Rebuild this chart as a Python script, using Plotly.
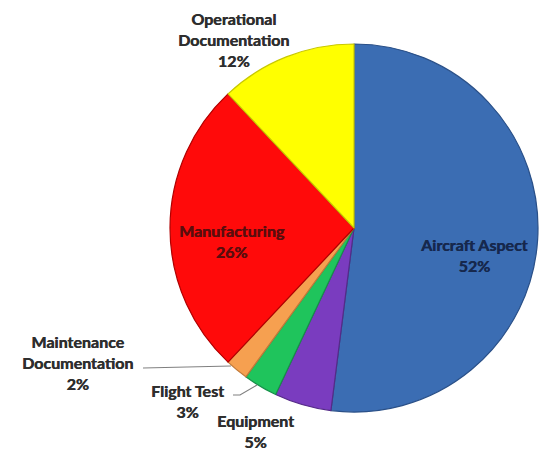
import plotly.graph_objects as go

# Share of findings by area
labels = ["Aircraft Aspect", "Equipment", "Flight Test", "Maintenance Documentation",
          "Manufacturing", "Operational Documentation"]
values = [52, 5, 3, 2, 26, 12]
colors = ["#3b6db3", "#7a3cbf", "#1fc45c", "#f6a050", "#ff0a0a", "#ffff00"]
edges = ["#2a5088", "#552a88", "#17904a", "#c07a3a", "#b00000", "#c8c800"]

# label text layout: (x, y) center in pixels, line breaks, font colour
label_pos = {
    "Aircraft Aspect": (474, 255, "Aircraft Aspect", "#16284d"),
    "Equipment": (255, 431, "Equipment", "#2e2e2e"),
    "Flight Test": (187, 401, "Flight Test", "#2e2e2e"),
    "Maintenance Documentation": (77, 362, "Maintenance<br>Documentation", "#2e2e2e"),
    "Manufacturing": (232, 241, "Manufacturing", "#5a0d0d"),
    "Operational Documentation": (233, 39, "Operational<br>Documentation", "#2e2e2e"),
}

W, H = 539, 453
cx, cy, r = 354, 228, 184

fig = go.Figure(go.Pie(
    labels=labels,
    values=values,
    sort=False,
    direction="clockwise",
    rotation=0,
    textinfo="none",
    hoverinfo="label+percent",
    marker=dict(colors=colors, line=dict(color=edges, width=1.2)),
    domain=dict(x=[(cx - r) / W, (cx + r) / W], y=[1 - (cy + r) / H, 1 - (cy - r) / H]),
    showlegend=False,
))

total = sum(values)
annotations = []
for lab, val in zip(labels, values):
    x, y, txt, col = label_pos[lab]
    pct = round(100 * val / total)
    annotations.append(dict(
        x=x / W, y=1 - y / H, xref="paper", yref="paper",
        text=f"<b>{txt}<br>{pct}%</b>", showarrow=False,
        font=dict(family="Lato", size=16, color=col, weight="bold",
                  shadow=f"0.5px 0 0 {col}"),
        align="center", xanchor="center", yanchor="middle",
    ))

# leader lines for the two thin slices
shapes = [
    dict(type="line", xref="paper", yref="paper",
         x0=143 / W, y0=1 - 368 / H, x1=231 / W, y1=1 - 366 / H,
         line=dict(color="#808080", width=1.2)),
    dict(type="path", xref="paper", yref="paper",
         path=f"M {233 / W},{1 - 395 / H} L {240 / W},{1 - 395 / H} L {257 / W},{1 - 385 / H}",
         line=dict(color="#808080", width=1.2)),
]

fig.update_layout(
    width=W, height=H,
    margin=dict(l=0, r=0, t=0, b=0),
    paper_bgcolor="white",
    plot_bgcolor="white",
    annotations=annotations,
    shapes=shapes,
)

fig.write_html("out.html")
